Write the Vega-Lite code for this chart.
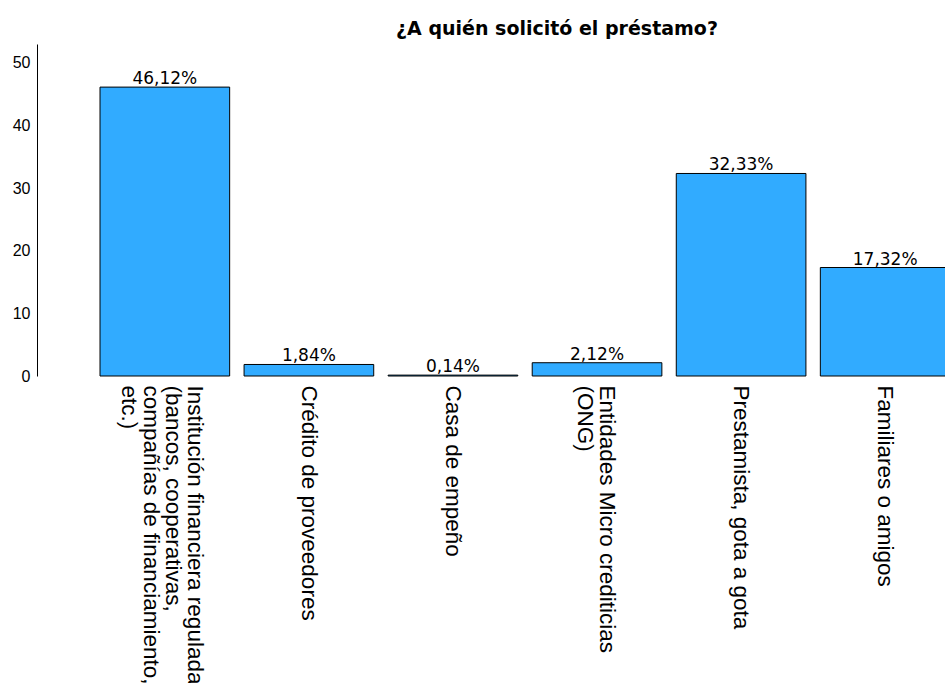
{
  "$schema": "https://vega.github.io/schema/vega-lite/v6.json",
  "width": 908,
  "height": 332,
  "autosize": "none",
  "padding": {"left": 37, "top": 44, "right": 0, "bottom": 307},
  "background": "white",
  "title": {
    "text": "¿A quién solicitó el préstamo?",
    "font": "DejaVu Sans",
    "fontSize": 19,
    "fontWeight": "bold",
    "anchor": "middle",
    "frame": "group",
    "dx": 66,
    "dy": 20,
    "baseline": "bottom",
    "offset": 6,
    "color": "#000000"
  },
  "data": {
    "values": [
      {"cat": "Institución financiera regulada|(bancos, cooperativas,|compañías de financiamiento,|etc.)", "pct": 46.12, "label": "46,12%"},
      {"cat": "Crédito de proveedores", "pct": 1.84, "label": "1,84%"},
      {"cat": "Casa de empeño", "pct": 0.14, "label": "0,14%"},
      {"cat": "Entidades Micro crediticias|(ONG)", "pct": 2.12, "label": "2,12%"},
      {"cat": "Prestamista, gota a gota", "pct": 32.33, "label": "32,33%"},
      {"cat": "Familiares o amigos", "pct": 17.32, "label": "17,32%"}
    ]
  },
  "encoding": {
    "x": {
      "field": "cat",
      "type": "nominal",
      "sort": null,
      "scale": {"range": [63, 913], "paddingInner": 0.1, "paddingOuter": 0},
      "axis": {
        "title": null,
        "domain": false,
        "ticks": false,
        "labelAngle": 90,
        "labelExpr": "split(datum.label, '|')",
        "labelFont": "Liberation Sans",
        "labelFontSize": 22.5,
        "labelLineHeight": 22,
        "labelColor": "#000000",
        "labelPadding": 9,
        "labelLimit": 0,
        "labelOffset": {
          "condition": [
            {"test": "length(split(datum.label, '|')) == 4", "value": 30},
            {"test": "length(split(datum.label, '|')) == 2", "value": 10}
          ],
          "value": 0
        }
      }
    },
    "y": {
      "field": "pct",
      "type": "quantitative",
      "scale": {"domain": [0, 53], "nice": false, "zero": true},
      "axis": {
        "title": null,
        "values": [0, 10, 20, 30, 40, 50],
        "grid": false,
        "ticks": false,
        "domainColor": "#000000",
        "domainWidth": 1,
        "labelFont": "Liberation Sans Narrow, Liberation Sans",
        "labelFontSize": 16,
        "labelPadding": 7,
        "labelColor": "#000000"
      }
    }
  },
  "layer": [
    {
      "mark": {"type": "bar", "fill": "#31ABFF", "stroke": "#000000", "strokeWidth": 1}
    },
    {
      "mark": {"type": "text", "baseline": "alphabetic", "dy": -3, "font": "DejaVu Sans", "fontSize": 17, "color": "#000000"},
      "encoding": {"text": {"field": "label"}}
    },
    {
      "data": {"values": [{}]},
      "mark": {"type": "rule", "color": "#000000", "strokeWidth": 1},
      "encoding": {"x": null, "y": {"datum": 0}}
    }
  ],
  "config": {"view": {"stroke": null}}
}
